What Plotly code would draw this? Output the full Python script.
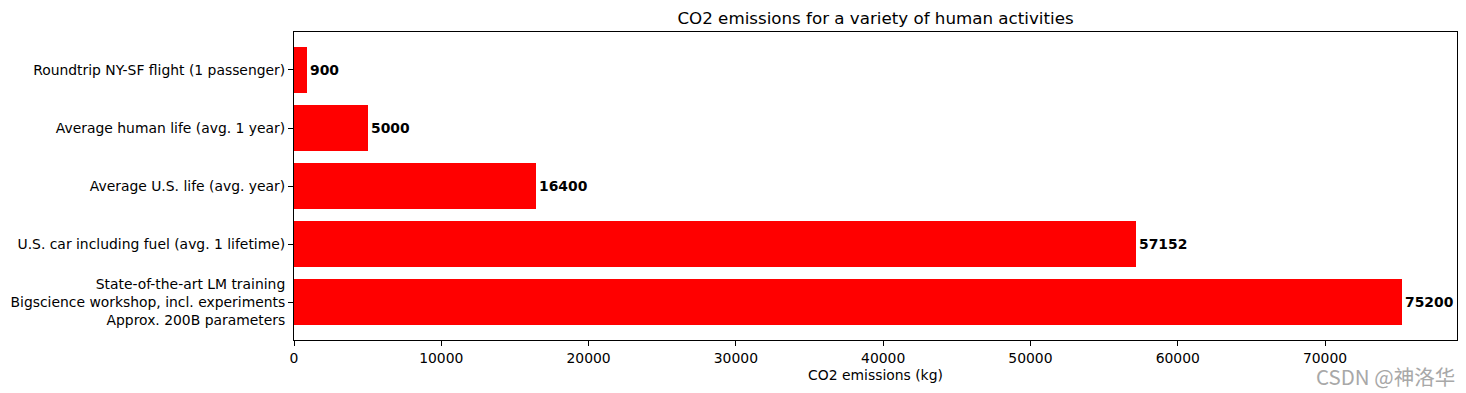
import plotly.graph_objects as go

categories = [
    "State-of-the-art LM training<br>Bigscience workshop, incl. experiments<br>Approx. 200B parameters",
    "U.S. car including fuel (avg. 1 lifetime)",
    "Average U.S. life (avg. year)",
    "Average human life (avg. 1 year)",
    "Roundtrip NY-SF flight (1 passenger)",
]
values = [75200, 57152, 16400, 5000, 900]
x_ticks = [0, 10000, 20000, 30000, 40000, 50000, 60000, 70000]

FONT = "DejaVu Sans"
FS = 13.9

# page has an 8px body margin, so the figure is sized to fit the window
W, H = 1458, 385
L, R, T, B = 286, 9, 24, 53

fig = go.Figure()
fig.add_trace(go.Bar(
    y=list(range(len(categories))),
    x=values,
    orientation="h",
    width=0.8,
    marker=dict(color="#ff0000", line=dict(width=0)),
    text=[str(v) for v in values],
    textposition="outside",
    constraintext="none",
    cliponaxis=False,
    textfont=dict(family=FONT, size=FS, color="black", weight="bold"),
))

fig.update_layout(
    width=W, height=H,
    paper_bgcolor="white", plot_bgcolor="white",
    margin=dict(l=L, r=R, t=T, b=B, autoexpand=False),
    font=dict(family=FONT, size=FS, color="black"),
    showlegend=False,
    bargap=0,
    title=dict(text="CO2 emissions for a variety of human activities",
               x=(L + (W - R)) / 2 / W, xanchor="center",
               y=1 - 10 / H, yanchor="middle",
               font=dict(family=FONT, size=16.7, color="black")),
    xaxis=dict(range=[0, 75200 * 1.05], tickvals=x_ticks,
               ticktext=[str(t) for t in x_ticks],
               showgrid=False, zeroline=False, showline=True, linecolor="black",
               linewidth=1, mirror=True, ticks="outside", ticklen=5, tickcolor="black",
               title=dict(text="CO2 emissions (kg)", standoff=5, font=dict(size=FS))),
    yaxis=dict(range=[-0.655, 4.655], tickvals=list(range(len(categories))),
               ticktext=categories,
               showgrid=False, zeroline=False, showline=True, linecolor="black",
               linewidth=1, mirror=True, ticks="outside", ticklen=5, tickcolor="black"),
)

pw = W - L - R
ph = H - T - B
fig.add_annotation(
    text="CSDN @神洛华", xref="paper", yref="paper",
    x=(1457 - 294) / pw, y=-(376 - 340) / ph,
    xanchor="right", yanchor="middle", showarrow=False,
    font=dict(family="Noto Sans CJK SC", size=20.5, color="#a8a8a8"),
)

fig.write_html("out.html")
